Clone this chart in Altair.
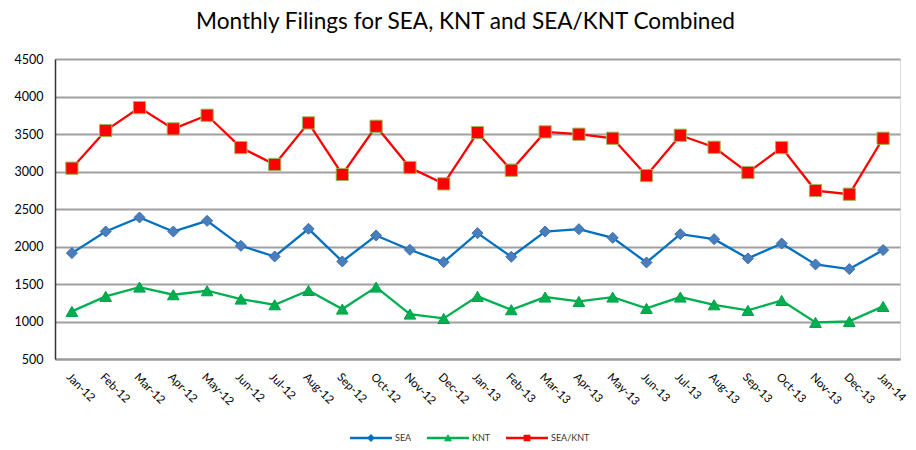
import altair as alt
import pandas as pd

months = ["Jan-12", "Feb-12", "Mar-12", "Apr-12", "May-12", "Jun-12", "Jul-12",
          "Aug-12", "Sep-12", "Oct-12", "Nov-12", "Dec-12", "Jan-13", "Feb-13",
          "Mar-13", "Apr-13", "May-13", "Jun-13", "Jul-13", "Aug-13", "Sep-13",
          "Oct-13", "Nov-13", "Dec-13", "Jan-14"]

sea = [1912, 2200, 2387, 2200, 2342, 2009, 1867, 2236, 1801, 2147, 1956, 1792,
       2178, 1863, 2200, 2231, 2116, 1787, 2165, 2098, 1841, 2040, 1761, 1699, 1952]
knt = [1135, 1335, 1459, 1357, 1410, 1299, 1223, 1414, 1166, 1459, 1099, 1041,
       1335, 1157, 1326, 1268, 1326, 1175, 1326, 1223, 1148, 1281, 988, 1001, 1201]
combined = [3044, 3546, 3852, 3568, 3750, 3319, 3093, 3648, 2960, 3603, 3053, 2835,
            3519, 3017, 3528, 3497, 3443, 2946, 3483, 3323, 2986, 3319, 2746, 2697, 3443]

series_names = ["SEA", "KNT", "SEA/KNT"]
line_colors = ["#0070C0", "#00B050", "#FF0000"]
fill_colors = ["#4A7EBB", "#00B050", "#FF0000"]
stroke_colors = ["#3A6EB0", "#00A048", "#9BBB59"]
shapes = ["diamond", "triangle-up", "square"]

line_path = "M-1,-0.055H1V0.055H-1Z"
legend_shapes = [
    line_path + " M0,-0.19L0.19,0L0,0.19L-0.19,0Z",
    line_path + " M0,-0.19L0.19,0.15L-0.19,0.15Z",
    line_path + " M-0.16,-0.16H0.16V0.16H-0.16Z",
]

rows = []
for name, vals in zip(series_names, [sea, knt, combined]):
    for m, v in zip(months, vals):
        rows.append({"month": m, "series": name, "value": v})
df = pd.DataFrame(rows)

x = alt.X("month:N", sort=months, title=None,
          scale=alt.Scale(type="point", padding=0.5),
          axis=alt.Axis(labelAngle=45, labelAlign="left", labelBaseline="top",
                        labelFontSize=11.5, labelPadding=12,
                        ticks=False, domain=True, domainColor="#999999",
                        domainWidth=2, labelColor="#000000",
                        labelFont="Lato", grid=False))
y = alt.Y("value:Q", title=None,
          scale=alt.Scale(domain=[500, 4500], nice=False, zero=False),
          axis=alt.Axis(values=list(range(500, 4501, 500)), format="d",
                        labelFontSize=12.5, labelPadding=12, ticks=False,
                        domainColor="#333333", domainWidth=1.5,
                        gridColor="#A0A0A0", gridWidth=1.8,
                        labelColor="#000000", labelFont="Lato"))

base = alt.Chart(df)

lines = base.mark_line(strokeWidth=2.3).encode(
    x=x, y=y,
    color=alt.Color("series:N", scale=alt.Scale(domain=series_names, range=line_colors),
                    legend=None),
    detail="series:N",
)

points = base.mark_point(filled=True, opacity=1, strokeWidth=1).encode(
    x=x, y=y,
    fill=alt.Fill("series:N", scale=alt.Scale(domain=series_names, range=fill_colors),
                  legend=None),
    stroke=alt.Stroke("series:N", scale=alt.Scale(domain=series_names, range=stroke_colors),
                      legend=None),
    shape=alt.Shape("series:N", scale=alt.Scale(domain=series_names, range=shapes),
                    legend=None),
    size=alt.Size("series:N", scale=alt.Scale(domain=series_names, range=[121, 150, 105]),
                  legend=None),
)

legend_props = dict(title=None, orient="none", direction="horizontal",
                    legendX=295, legendY=358, padding=0,
                    labelFontSize=9, labelFont="Lato",
                    labelColor="#333333", labelOffset=3,
                    columnPadding=15, symbolStrokeWidth=0,
                    symbolSize=1764, symbolOpacity=1)

legend_layer = base.transform_filter("datum.value < 0").mark_point(
    filled=True, size=1764, opacity=1
).encode(
    x=x, y=y,
    color=alt.Color("series:N", scale=alt.Scale(domain=series_names, range=line_colors),
                    legend=alt.Legend(**legend_props)),
    shape=alt.Shape("series:N", scale=alt.Scale(domain=series_names, range=legend_shapes),
                    legend=alt.Legend(**legend_props)),
)

chart = alt.layer(lines, points, legend_layer).resolve_scale(
    color="independent", shape="independent"
).properties(
    width=845, height=300,
    title=alt.TitleParams("Monthly Filings for SEA, KNT and SEA/KNT Combined",
                          fontSize=22.6, font="Lato", fontWeight="normal",
                          color="#000000", offset=19, anchor="middle", dx=-12),
    autosize=alt.AutoSizeParams(type="none"),
    padding={"left": 47, "top": 51, "right": 8, "bottom": 83},
).configure_view(
    stroke="#A0A0A0", strokeWidth=1.5
).configure(background="white")

chart.save("out.html", embed_options={"renderer": "svg", "actions": False})
